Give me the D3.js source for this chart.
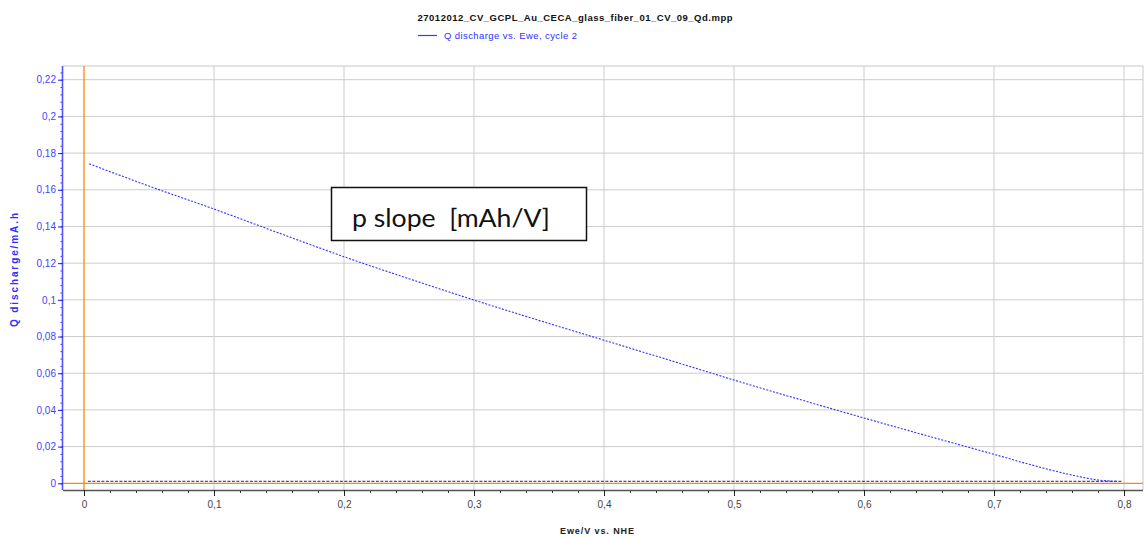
<!DOCTYPE html>
<html>
<head>
<meta charset="utf-8">
<script src="https://cdn.jsdelivr.net/npm/d3@7"></script>
<style>
  body { margin: 0; background: #fff; }
  svg { font-family: "Liberation Sans", Arial, sans-serif; }
</style>
</head>
<body>
<div id="chart"></div>
<script>
// data
const ewe = [0.004, 0.05, 0.1, 0.15, 0.2, 0.25, 0.3, 0.35, 0.4, 0.45, 0.5, 0.55, 0.6, 0.65, 0.7, 0.73, 0.76, 0.78, 0.795];
const qDischarge = [0.1742, 0.162, 0.1495, 0.1364, 0.1235, 0.1115, 0.0999, 0.0888, 0.078, 0.0672, 0.0563, 0.0458, 0.0356, 0.0256, 0.0158, 0.0098, 0.0045, 0.0018, 0.001];
const eweBase = [0.003, 0.799];
const qBase = [0.0011, 0.0011];
const xTicks = [0, 0.1, 0.2, 0.3, 0.4, 0.5, 0.6, 0.7, 0.8];
const yTicks = [0, 0.02, 0.04, 0.06, 0.08, 0.1, 0.12, 0.14, 0.16, 0.18, 0.2, 0.22];

const W = 1145, H = 538;
const plot = { left: 63, right: 1143, top: 66, bottom: 490 };

const svg = d3.select("#chart").append("svg")
  .attr("width", W)
  .attr("height", H);

const x = d3.scaleLinear().domain([0, 0.8]).range([84, 1124]);
const y = d3.scaleLinear().domain([0, 0.22]).range([483.3, 79.7]);

const fmt = d => d === 0 ? "0" : String(+d.toFixed(2)).replace(".", ",");

// frame (top and right)
svg.append("path")
  .attr("d", `M${plot.left},${plot.top}H${plot.right}V${plot.bottom}`)
  .attr("fill", "none")
  .attr("stroke", "#c8c8c8");

// grid
svg.append("g").selectAll("line")
  .data(xTicks.filter(d => d > 0))
  .enter().append("line")
  .attr("x1", d => x(d)).attr("x2", d => x(d))
  .attr("y1", plot.top).attr("y2", plot.bottom)
  .attr("stroke", "#cccccc");

svg.append("g").selectAll("line")
  .data(yTicks.filter(d => d > 0))
  .enter().append("line")
  .attr("x1", plot.left).attr("x2", plot.right)
  .attr("y1", d => y(d)).attr("y2", d => y(d))
  .attr("stroke", "#cccccc");

// orange zero lines
svg.append("line")
  .attr("x1", x(0)).attr("x2", x(0))
  .attr("y1", plot.top).attr("y2", plot.bottom)
  .attr("stroke", "#ff8800").attr("stroke-width", 1.3);
svg.append("line")
  .attr("x1", plot.left).attr("x2", plot.right)
  .attr("y1", y(0)).attr("y2", y(0))
  .attr("stroke", "#ff8800").attr("stroke-width", 1.3);

// x axis
const xMinor = d3.range(0, 41).map(i => i * 0.02).filter(d => d <= 0.8146);
const gxMinor = svg.append("g")
  .attr("transform", `translate(0,${plot.bottom})`)
  .call(d3.axisBottom(x).tickValues(xMinor).tickSize(3).tickFormat(""));
gxMinor.select(".domain").remove();
gxMinor.selectAll("line").attr("stroke", "#333");

const gx = svg.append("g")
  .attr("transform", `translate(0,${plot.bottom})`)
  .call(d3.axisBottom(x).tickValues(xTicks).tickSize(6).tickSizeOuter(0).tickFormat(fmt));
gx.select(".domain").attr("d", `M${plot.left},0.5H${plot.right}`).attr("stroke", "#555").attr("stroke-width", 1.5);
gx.selectAll("line").attr("stroke", "#222");
gx.selectAll("text").attr("fill", "#444").style("font-size", "10px").attr("dy", "0.9em");

// y axis
const yMinor = d3.range(0, 57).map(i => i * 0.004).filter(d => d <= 0.2275);
const gyMinor = svg.append("g")
  .attr("transform", `translate(${plot.left},0)`)
  .call(d3.axisLeft(y).tickValues(yMinor).tickSize(2.5).tickFormat(""));
gyMinor.select(".domain").remove();
gyMinor.selectAll("line").attr("stroke", "#3333ee");

const gy = svg.append("g")
  .attr("transform", `translate(${plot.left},0)`)
  .call(d3.axisLeft(y).tickValues(yTicks).tickSize(5).tickSizeOuter(0).tickFormat(fmt));
gy.select(".domain").attr("d", `M-0.5,${plot.top}V${plot.bottom}`).attr("stroke", "#5555ff").attr("stroke-width", 1.6);
gy.selectAll("line").attr("stroke", "#2222dd");
gy.selectAll("text").attr("fill", "#4444ff").style("font-size", "10px").attr("x", -7);

// series
const line = d3.line().curve(d3.curveMonotoneX).x(d => x(d[0])).y(d => y(d[1]));

svg.append("path")
  .datum(eweBase.map((e, i) => [e, qBase[i]]))
  .attr("fill", "none")
  .attr("stroke", "#1a1a99")
  .attr("stroke-width", 1)
  .attr("stroke-dasharray", "3,1.5")
  .attr("d", line);

svg.append("path")
  .datum(ewe.map((e, i) => [e, qDischarge[i]]))
  .attr("fill", "none")
  .attr("stroke", "#3030ff")
  .attr("stroke-width", 1.1)
  .attr("stroke-dasharray", "2,1.5")
  .attr("d", line);

// title and legend
svg.append("text")
  .attr("x", 575).attr("y", 21)
  .attr("text-anchor", "middle")
  .style("font-size", "9.5px")
  .style("font-weight", "bold")
  .attr("fill", "#111")
  .attr("textLength", 315)
  .text("27012012_CV_GCPL_Au_CECA_glass_fiber_01_CV_09_Qd.mpp");

svg.append("line")
  .attr("x1", 418).attr("x2", 437)
  .attr("y1", 35.5).attr("y2", 35.5)
  .attr("stroke", "#3a3aff")
  .attr("stroke-width", 1.2);
svg.append("text")
  .attr("x", 444).attr("y", 39)
  .style("font-size", "9.5px")
  .attr("fill", "#3030ff")
  .attr("textLength", 133)
  .text("Q discharge vs. Ewe, cycle 2");

// axis titles
svg.append("text")
  .attr("x", 597).attr("y", 534)
  .attr("text-anchor", "middle")
  .style("font-size", "9px")
  .style("font-weight", "bold")
  .attr("fill", "#222")
  .attr("textLength", 74)
  .text("Ewe/V vs. NHE");

svg.append("text")
  .attr("transform", "translate(18,270) rotate(-90)")
  .attr("text-anchor", "middle")
  .style("font-size", "10px")
  .style("font-weight", "bold")
  .attr("fill", "#3030ff")
  .attr("textLength", 114)
  .text("Q discharge/mA.h");

// annotation box
svg.append("rect")
  .attr("x", 331.5).attr("y", 187.5)
  .attr("width", 255).attr("height", 53)
  .attr("fill", "#fff")
  .attr("stroke", "#111")
  .attr("stroke-width", 1.5);
svg.append("text")
  .attr("x", 352).attr("y", 227)
  .style("font-size", "25px")
  .style("font-family", "Lato, 'Open Sans', sans-serif")
  .attr("fill", "#111")
  .attr("textLength", 198)
  .attr("lengthAdjust", "spacingAndGlyphs")
  .text("p slope\u00a0\u00a0[mAh/V]");
</script>
</body>
</html>
